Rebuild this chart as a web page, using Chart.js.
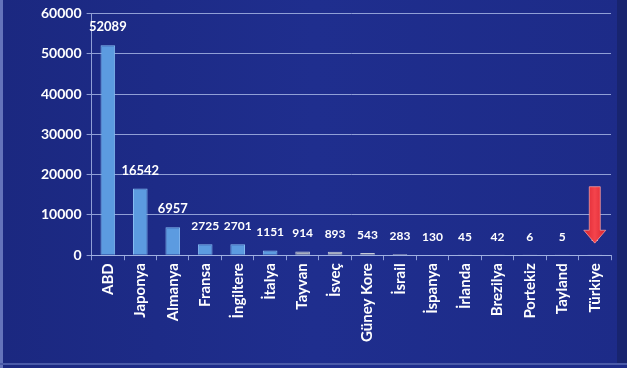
<!DOCTYPE html>
<html>
<head>
<meta charset="utf-8">
<script src="https://cdn.jsdelivr.net/npm/chart.js@4"></script>
<style>
  html, body { margin: 0; padding: 0; background: #1d2b88; }
  #wrap { width: 627px; height: 368px; position: relative; }
</style>
</head>
<body>
<div id="wrap"><canvas id="c" width="627" height="368"></canvas></div>
<script>
// Patent counts by country
const countries = ['ABD', 'Japonya', 'Almanya', 'Fransa', 'İngiltere', 'İtalya', 'Tayvan', 'İsveç',
                   'Güney Kore', 'İsrail', 'İspanya', 'İrlanda', 'Brezilya', 'Portekiz', 'Tayland', 'Türkiye'];
const patents   = [52089, 16542, 6957, 2725, 2701, 1151, 914, 893, 543, 283, 130, 45, 42, 6, 5, 2];
const yTickValues = [0, 10000, 20000, 30000, 40000, 50000, 60000];
const highlighted = 'Türkiye';

const blueBars = 6; // the first few bars are blue, the rest grey
const barColors = patents.map((v, i) => i < blueBars ? '#5c9be0' : '#a8afc0');
const barBorders = patents.map((v, i) => i < blueBars ? '#86bdf2' : '#c4c9d6');

const FONT = 'Lato, "Open Sans", sans-serif';
const GRID = 'rgba(165,180,228,0.85)';

// panel background with a light frame on the left and bottom
const panelBg = {
  id: 'panelBg',
  beforeDraw(chart) {
    const { ctx, width, height } = chart;
    ctx.save();
    const g = ctx.createLinearGradient(0, 0, width, 0);
    g.addColorStop(0, '#1b2880');
    g.addColorStop(0.5, '#1f2e8e');
    g.addColorStop(1, '#1d2b88');
    ctx.fillStyle = g;
    ctx.fillRect(0, 0, width, height);
    ctx.fillStyle = '#6473bb';
    ctx.fillRect(0, 0, 3, height);
    ctx.fillStyle = '#4a5aa8';
    ctx.fillRect(0, height - 5, width, 2);
    ctx.fillStyle = '#18246f';
    ctx.fillRect(width - 10, 0, 10, height - 5);
    ctx.restore();
  }
};

// value written above each bar
const valueLabels = {
  id: 'valueLabels',
  afterDatasetsDraw(chart) {
    const { ctx } = chart;
    const meta = chart.getDatasetMeta(0);
    ctx.save();
    ctx.fillStyle = '#ffffff';
    ctx.textAlign = 'center';
    ctx.textBaseline = 'middle';
    meta.data.forEach((bar, i) => {
      const v = patents[i];
      ctx.font = (v >= 5000 ? 'bold 13px ' : 'bold 12px ') + FONT;
      ctx.fillText(String(v), bar.x, bar.y - 18);
    });
    ctx.restore();
  }
};

// red arrow pointing down at the highlighted country
const pointerArrow = {
  id: 'pointerArrow',
  afterDatasetsDraw(chart) {
    const idx = countries.indexOf(highlighted);
    if (idx < 0) return;
    const { ctx, scales } = chart;
    const x = scales.x.getPixelForValue(idx);
    const top = scales.y.getPixelForValue(17000);
    const neck = scales.y.getPixelForValue(6200);
    const tip = scales.y.getPixelForValue(3000);
    const shaft = 5.5, head = 11;
    ctx.save();
    const g = ctx.createLinearGradient(x - head, 0, x + head, 0);
    g.addColorStop(0, '#d8222e');
    g.addColorStop(0.5, '#f4444c');
    g.addColorStop(1, '#d8222e');
    ctx.fillStyle = g;
    ctx.strokeStyle = 'rgba(255,170,170,0.7)';
    ctx.lineWidth = 1;
    ctx.beginPath();
    ctx.moveTo(x - shaft, top);
    ctx.lineTo(x + shaft, top);
    ctx.lineTo(x + shaft, neck);
    ctx.lineTo(x + head, neck);
    ctx.lineTo(x, tip);
    ctx.lineTo(x - head, neck);
    ctx.lineTo(x - shaft, neck);
    ctx.closePath();
    ctx.fill();
    ctx.stroke();
    ctx.restore();
  }
};

new Chart(document.getElementById('c'), {
  type: 'bar',
  data: {
    labels: countries,
    datasets: [{
      data: patents,
      backgroundColor: barColors,
      borderColor: barBorders,
      borderWidth: 1,
      categoryPercentage: 0.9,
      barPercentage: 0.5
    }]
  },
  options: {
    responsive: false,
    animation: false,
    layout: { padding: { left: 36, right: 16, top: 5, bottom: 23 } },
    plugins: { legend: { display: false }, tooltip: { enabled: false } },
    scales: {
      y: {
        min: 0,
        max: 60000,
        afterBuildTicks(axis) { axis.ticks = yTickValues.map(v => ({ value: v })); },
        ticks: {
          color: '#ffffff',
          font: { family: FONT, size: 14, weight: 'bold' },
          padding: 5,
          callback: v => String(v)
        },
        grid: { color: GRID, lineWidth: 1, tickLength: 5 },
        border: { color: GRID, width: 1 }
      },
      x: {
        ticks: {
          color: '#ffffff',
          font: { family: FONT, size: 15, weight: 'bold' },
          minRotation: 90,
          maxRotation: 90,
          autoSkip: false,
          padding: 3
        },
        grid: { drawOnChartArea: false, color: GRID, tickLength: 5 },
        border: { color: GRID, width: 1 }
      }
    }
  },
  plugins: [panelBg, valueLabels, pointerArrow]
});
</script>
</body>
</html>
